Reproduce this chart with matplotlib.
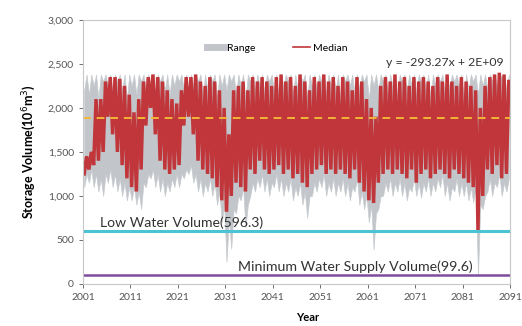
"""Storage volume simulation: ensemble range and median, 2001-2090."""

import matplotlib
import numpy as np

matplotlib.use("Agg")
import matplotlib.pyplot as plt  # noqa: E402
from matplotlib.lines import Line2D  # noqa: E402
from matplotlib.ticker import FuncFormatter  # noqa: E402

plt.rcParams["font.family"] = ["Lato", "DejaVu Sans"]

YEARS = np.arange(2001, 2091)

# median storage, wet-season peak and dry-season trough for each year (10^6 m3)
MEDIAN_PEAK = [
    1450, 1500, 2100, 2100, 2300, 2350, 2350, 2330, 2250, 2150,
    1950, 2100, 2300, 2350, 2380, 2350, 2300, 2200, 2100, 2050,
    2200, 2350, 2350, 2380, 2300, 2250, 2350, 2300, 2200, 2000,
    1700, 2200, 2250, 2300, 2200, 2350, 2300, 2350, 2300, 2250,
    2350, 2380, 2300, 2350, 2250, 2380, 2300, 2200, 2350, 2300,
    2380, 2300, 2350, 2250, 2350, 2300, 2200, 2350, 2300, 2100,
    2000, 1900, 2250, 2350, 2300, 2380, 2300, 2350, 2250, 2350,
    2300, 2350, 2300, 2250, 2350, 2300, 2380, 2300, 2250, 2350,
    2300, 2250, 2200, 2000, 2250, 2350, 2380, 2400, 2380, 2300,
]
MEDIAN_TROUGH = [
    1250, 1300, 1350, 1400, 1500, 1900, 1700, 1500, 1350, 1200,
    1100, 1050, 1300, 1800, 2000, 1700, 1400, 1300, 1250, 1300,
    1350, 1800, 1900, 1700, 1400, 1300, 1250, 1200, 1100, 950,
    820, 1000, 1150, 1100, 1050, 1300, 1250, 1400, 1300, 1250,
    1300, 1350, 1250, 1300, 1200, 1250, 1150, 1100, 1250, 1300,
    1350, 1250, 1300, 1250, 1300, 1250, 1200, 1300, 1150, 1050,
    950, 920, 1150, 1250, 1300, 1250, 1300, 1250, 1200, 1300,
    1150, 1250, 1300, 1200, 1250, 1300, 1250, 1200, 1300, 1250,
    1200, 1150, 1100, 613, 1000, 1300, 1250, 1350, 1200, 1250,
]

# ensemble range: upper bound in wet and dry half-years, lower bounds
RANGE_MAX_WET = [2380] * 90
RANGE_MAX_DRY = [
    2200, 2150, 2250, 2100, 2300, 2250, 2150, 2300, 2200, 2100,
    2250, 2150, 2300, 2200, 2250, 2100, 2300, 2200, 2150, 2250,
    2300, 2200, 2100, 2250, 2300, 2150, 2200, 2300, 2100, 2250,
    2200, 2300, 2150, 2250, 2100, 2300, 2200, 2250, 2150, 2300,
    2200, 2100, 2250, 2300, 2150, 2200, 2300, 2100, 2250, 2200,
    2300, 2150, 2250, 2200, 2100, 2300, 2250, 2150, 2200, 2300,
    2100, 2250, 2200, 2300, 2150, 2250, 2100, 2300, 2200, 2250,
    2150, 2300, 2200, 2100, 2250, 2300, 2150, 2200, 2300, 2250,
    2100, 2200, 2300, 2150, 2250, 2200, 2300, 2250, 2350, 2200,
]
RANGE_MIN = [
    1100, 1150, 1100, 1050, 1000, 1150, 1100, 1050, 1000, 950,
    950, 900, 850, 1100, 1200, 1100, 1050, 1000, 1050, 1100,
    1100, 1200, 1250, 1150, 1050, 1000, 1050, 1000, 900, 700,
    250, 400, 800, 950, 640, 1000, 1050, 1100, 1050, 1000,
    1100, 1050, 1000, 1050, 950, 1000, 900, 750, 1000, 1050,
    1100, 1000, 1050, 1000, 1050, 1000, 950, 1050, 900, 850,
    700, 390, 850, 1000, 1050, 1000, 1050, 1000, 950, 1050,
    1000, 980, 1050, 1000, 1050, 1100, 1000, 950, 1050, 1000,
    1000, 950, 930, 100, 850, 1050, 1000, 1100, 1000, 1050,
]
RANGE_MIN_WET = [
    1250, 1300, 1250, 1200, 1250, 1300, 1250, 1200, 1150, 1100,
    1100, 1050, 1150, 1250, 1300, 1250, 1200, 1150, 1200, 1250,
    1250, 1300, 1350, 1250, 1200, 1150, 1200, 1150, 1050, 900,
    750, 850, 1000, 1100, 900, 1150, 1200, 1250, 1200, 1150,
    1250, 1200, 1150, 1200, 1100, 1150, 1050, 1000, 1150, 1200,
    1250, 1150, 1200, 1150, 1200, 1150, 1100, 1200, 1050, 1000,
    900, 800, 1000, 1150, 1200, 1150, 1200, 1150, 1100, 1200,
    1150, 1150, 1200, 1150, 1200, 1250, 1150, 1100, 1200, 1150,
    1150, 1100, 1100, 900, 1000, 1200, 1150, 1250, 1150, 1200,
]

LOW_WATER = 596.3
MIN_SUPPLY = 99.6
TREND_LEVEL = 1885


def interleave(dry, wet):
    return np.column_stack([np.asarray(dry, float), np.asarray(wet, float)]).ravel()


t = interleave(YEARS + 0.25, YEARS + 0.75)
median = interleave(MEDIAN_TROUGH, MEDIAN_PEAK)
range_hi = interleave(RANGE_MAX_DRY, RANGE_MAX_WET)
range_lo = interleave(RANGE_MIN, RANGE_MIN_WET)

fig = plt.figure(figsize=(5.22, 3.26), dpi=100)
ax = fig.add_axes([0.159, 0.129, 0.818, 0.81])

ax.fill_between(t, range_lo, range_hi, color="#c2c6ca", linewidth=0.5, edgecolor="#c8ccd0")
ax.plot(t, median, color="#c0363a", linewidth=2.5, solid_joinstyle="miter")
ax.axhline(TREND_LEVEL, color="#f2b535", linewidth=1.4, linestyle=(0, (4, 3)))
ax.axhline(LOW_WATER, color="#4cc3d4", linewidth=2.2)
ax.axhline(MIN_SUPPLY, color="#7d4c9c", linewidth=1.8)

ax.text(2004.6, LOW_WATER + 50, "Low Water Volume(596.3)", fontsize=10.1, color="#333333")
ax.text(2033.7, MIN_SUPPLY + 50, "Minimum Water Supply Volume(99.6)", fontsize=10.2, color="#333333")
ax.text(2089.6, 2480, "y = -293.27x + 2E+09", fontsize=8.8, color="#333333", ha="right")

ax.set_xlim(2001, 2091)
ax.set_ylim(0, 3000)
ax.set_xticks(np.arange(2001, 2092, 10))
ax.set_yticks(np.arange(0, 3001, 500))
ax.yaxis.set_major_formatter(FuncFormatter(lambda v, _: f"{v:,.0f}"))
ax.tick_params(labelsize=7.5, colors="#555555", length=3, width=0.6)
for side in ["left", "bottom", "top", "right"]:
    ax.spines[side].set_color("#c8c8c8")
    ax.spines[side].set_linewidth(0.8)

ax.set_xlabel("Year", fontsize=8, fontweight="bold")
ax.xaxis.set_label_coords(0.527, -0.105)
ax.set_ylabel("Storage Volume(10$^6$m$^3$)", fontsize=9, fontweight="bold", labelpad=7)

handles = [
    Line2D([], [], color="#c2c6ca", linewidth=5),
    Line2D([], [], color="#c0363a", linewidth=1.2),
]
ax.legend(handles, ["Range", "Median"], loc="upper center", bbox_to_anchor=(0.455, 0.945),
          ncol=2, frameon=False, fontsize=7.5, handlelength=1.6, columnspacing=3.6,
          handletextpad=0.3)

fig.savefig("out.png", dpi=100)
